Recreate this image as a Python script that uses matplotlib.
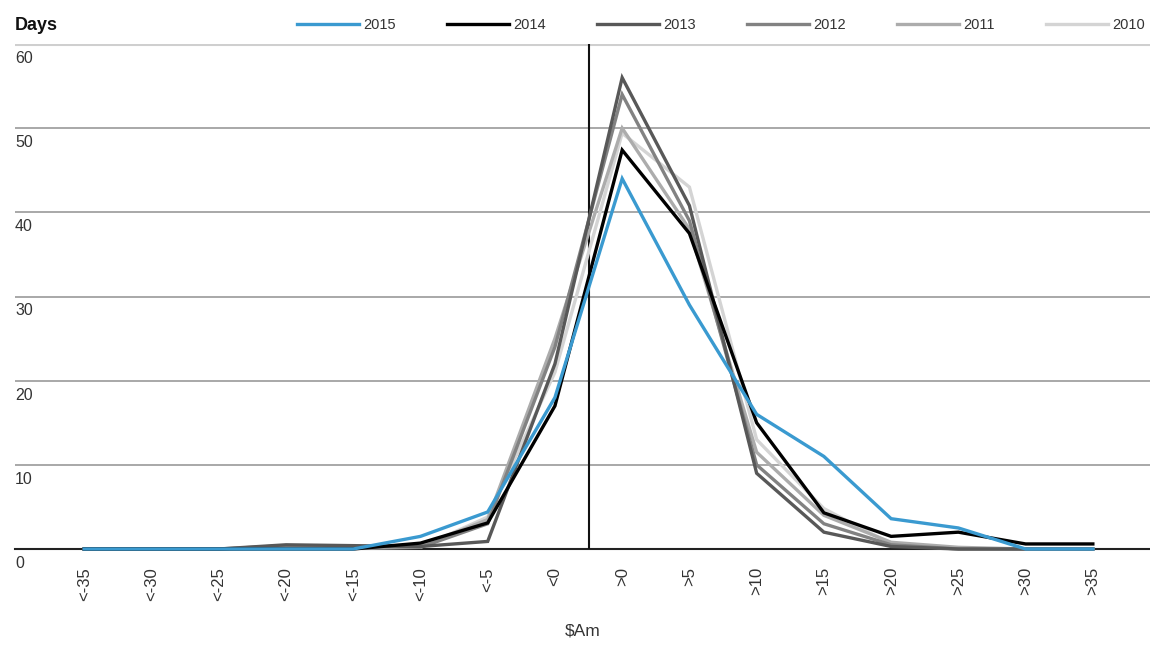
import matplotlib.pyplot as plt
import matplotlib.transforms as mtransforms
import numpy as np

plt.rcParams['font.family'] = ['Liberation Sans', 'DejaVu Sans']

# categories on the x axis
categories = ['<-35', '<-30', '<-25', '<-20', '<-15', '<-10', '<-5', '<0',
              '>0', '>5', '>10', '>15', '>20', '>25', '>30', '>35']

# days per bucket
y2015 = [0, 0, 0, 0, 0, 1.5, 4.4, 18, 44, 29, 16, 11, 3.6, 2.5, 0, 0]
y2014 = [0, 0, 0, 0, 0, 0.7, 3.1, 17, 47.4, 37.5, 15, 4.3, 1.5, 2.0, 0.6, 0.6]
y2013 = [0, 0, 0, 0.5, 0.4, 0.3, 0.9, 22, 56, 40.8, 9, 2, 0.3, 0, 0, 0]
y2012 = [0, 0, 0, 0.4, 0.3, 0.2, 3.0, 24, 54, 39, 10, 3, 0.5, 0, 0, 0]
y2011 = [0, 0, 0, 0.2, 0.2, 0.3, 3.5, 25, 50, 38, 11.5, 4, 0.8, 0.2, 0, 0]
y2010 = [0, 0, 0, 0.1, 0.1, 0.2, 3.8, 21, 49.4, 43, 13, 4.8, 0.6, 0, 0, 0]

years = ['2015', '2014', '2013', '2012', '2011', '2010']
series = [y2015, y2014, y2013, y2012, y2011, y2010]
colors = ['#3a9ad0', '#000000', '#585858', '#828282', '#acacac', '#d4d4d4']

yticks = [0, 10, 20, 30, 40, 50, 60]

fig = plt.figure(figsize=(11.5, 6.48), dpi=100)
ax = fig.add_axes([15 / 1150, 1 - 549 / 648, 1 - 15 / 1150, (549 - 44) / 648])

x = np.arange(len(categories))

# grid lines
for v in yticks[1:-1]:
    ax.axhline(v, color='#9a9a9a', lw=1.2, zorder=1)
ax.axhline(60, color='#cfcfcf', lw=2.2, zorder=1)
ax.axhline(0, color='#222222', lw=1.5, zorder=2, clip_on=False)

# zero divider between <0 and >0
ax.axvline(7.5, color='#111111', lw=1.5, zorder=2)

lines = {}
for yr, vals, c in reversed(list(zip(years, series, colors))):
    ln, = ax.plot(x, vals, color=c, lw=2.4, zorder=3, clip_on=False,
                  solid_joinstyle='miter', label=yr)
    lines[yr] = ln

ax.set_xlim(-1.03, 15.85)
ax.set_ylim(0, 60)
for s in ax.spines.values():
    s.set_visible(False)

ax.set_xticks(x)
ax.set_xticklabels(categories, rotation=90, fontsize=12, color='#333333', va='top')
ax.tick_params(axis='x', length=0, pad=13)
ax.set_yticks([])

trans = mtransforms.blended_transform_factory(ax.transAxes, ax.transData)
offset = mtransforms.ScaledTranslation(0, -5 / 72, fig.dpi_scale_trans)
for v in yticks:
    ax.text(0.0, v, str(v), transform=trans + offset, ha='left', va='top',
            fontsize=11.5, color='#333333')

ax.set_xlabel('\\$Am', fontsize=12.5, color='#333333', labelpad=16)

fig.text(15 / 1150, 1 - 25 / 648, 'Days', fontsize=13, fontweight='bold',
         ha='left', va='center', color='#111111')

fig.legend([lines[y] for y in years], years, loc='center left',
           bbox_to_anchor=(297 / 1150, 1 - 25 / 648), ncol=6, frameon=False,
           fontsize=10.5, borderpad=0, handlelength=4.25, handletextpad=0.3,
           columnspacing=3.5, borderaxespad=0, labelcolor='#333333')

fig.savefig('out.png', dpi=100)
